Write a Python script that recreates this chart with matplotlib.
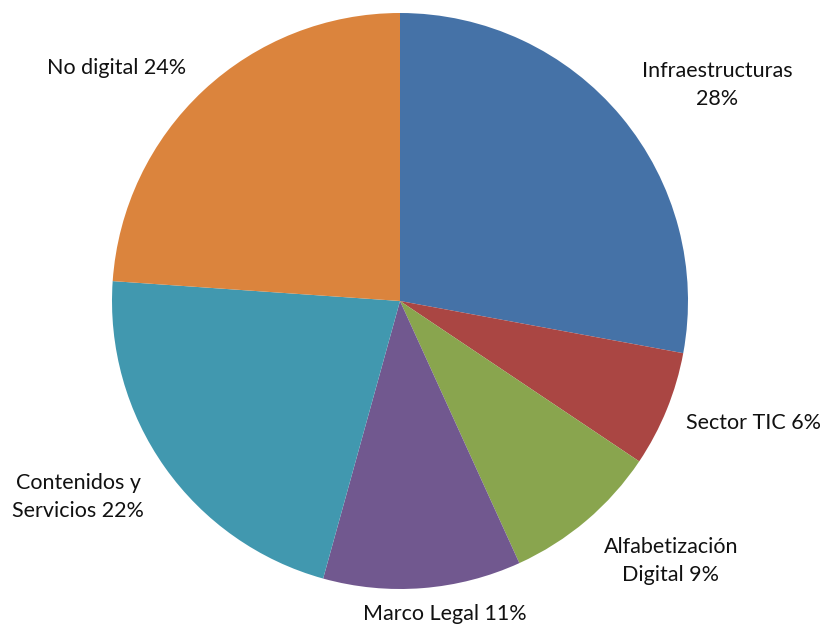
import matplotlib
matplotlib.use("Agg")
import matplotlib.pyplot as plt

labels = ["Infraestructuras\n28%", "Sector TIC 6%", "Alfabetización\nDigital 9%",
          "Marco Legal 11%", "Contenidos y\nServicios 22%", "No digital 24%"]
values = [27.9, 6.5, 8.8, 11.1, 21.8, 23.9]
colors = ["#4572A7", "#AA4643", "#89A54E", "#71588F", "#4198AF", "#DB843D"]

# label centres in pixels of the 825x628 picture
label_px = [(717, 85), (753, 423), (671, 561), (445, 614), (78, 497), (117, 68)]

cx, cy, r = 400, 301, 288
W, H = 825, 628

plt.rcParams['font.family'] = ['Lato', 'DejaVu Sans']

fig = plt.figure(figsize=(W / 100, H / 100), dpi=100)
ax = fig.add_axes([0, 0, 1, 1])
ax.pie(values, colors=colors, startangle=90, counterclock=False, radius=1,
       wedgeprops=dict(linewidth=0))
ax.set_xlim(-cx / r, (W - cx) / r)
ax.set_ylim(-(H - cy) / r, cy / r)
ax.set_aspect('equal')
ax.axis('off')

for lab, (px, py) in zip(labels, label_px):
    ax.text((px - cx) / r, (cy - py) / r, lab, ha='center', va='center',
            fontsize=15.5, color='#111111', linespacing=1.45)

fig.savefig("out.png", dpi=100)
